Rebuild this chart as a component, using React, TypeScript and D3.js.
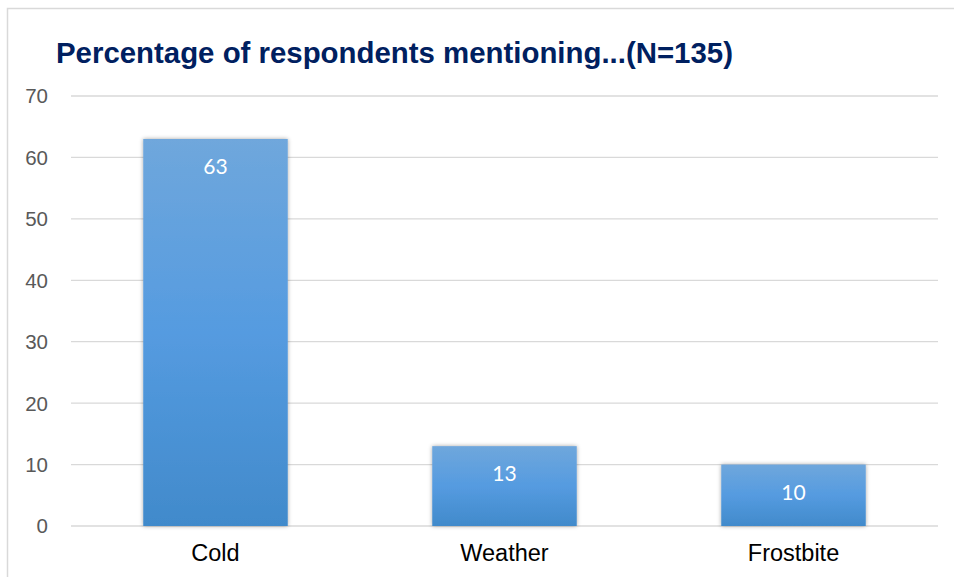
import React from "react";
import * as d3 from "d3";

const categories = ["Cold", "Weather", "Frostbite"];
const values = [63, 13, 10];
const yTicks = [0, 10, 20, 30, 40, 50, 60, 70];
const title = "Percentage of respondents mentioning...(N=135)";

const W = 954;
const H = 577;
const plot = { left: 71, right: 938, top: 96, bottom: 526 };

export default function App() {
  const x = d3
    .scaleBand<string>()
    .domain(categories)
    .range([plot.left, plot.right])
    .paddingInner(0.5)
    .paddingOuter(0.25);
  const y = d3.scaleLinear().domain([0, 70]).range([plot.bottom, plot.top]);

  return (
    <svg
      width={W}
      height={H}
      style={{ position: "absolute", left: 0, top: 0, background: "#fff" }}
      fontFamily="'Liberation Sans', Arial, sans-serif"
    >
      <defs>
        <linearGradient id="barGrad" x1="0" y1="0" x2="0" y2="1">
          <stop offset="0%" stopColor="#6fa7dc" />
          <stop offset="50%" stopColor="#559be0" />
          <stop offset="100%" stopColor="#418acb" />
        </linearGradient>
        <filter id="shadow" x="-10%" y="-10%" width="120%" height="120%">
          <feDropShadow dx="0" dy="0" stdDeviation="2" floodColor="#000" floodOpacity="0.35" />
        </filter>
      </defs>
      <rect x={7.5} y={8.5} width={W + 10} height={H + 10} fill="#fff" stroke="#d9d9d9" strokeWidth={1.5} />
      <text x={56} y={63} fontSize={29.4} fontWeight="bold" fill="#002060">
        {title}
      </text>
      {yTicks.map((t) => (
        <g key={t}>
          <line x1={plot.left} x2={plot.right} y1={y(t)} y2={y(t)} stroke="#d9d9d9" strokeWidth={1.3} />
          <text x={48} y={y(t)} dy="0.36em" textAnchor="end" fontSize={20.5} fill="#595959">
            {t}
          </text>
        </g>
      ))}
      {categories.map((c, i) => {
        const bx = x(c)!;
        const bw = x.bandwidth();
        const by = y(values[i]);
        return (
          <g key={c}>
            <rect
              x={bx}
              y={by}
              width={bw}
              height={y(0) - by}
              fill="url(#barGrad)"
              filter="url(#shadow)"
            />
            <text
              x={bx + bw / 2}
              y={by + 28}
              dy="0.35em"
              textAnchor="middle"
              fontSize={21}
              fill="#ffffff"
              fontFamily="Lato, 'Open Sans', sans-serif"
            >
              {values[i]}
            </text>
            <text x={bx + bw / 2} y={553} dy="0.35em" textAnchor="middle" fontSize={23.5} fill="#000">
              {c}
            </text>
          </g>
        );
      })}
    </svg>
  );
}
